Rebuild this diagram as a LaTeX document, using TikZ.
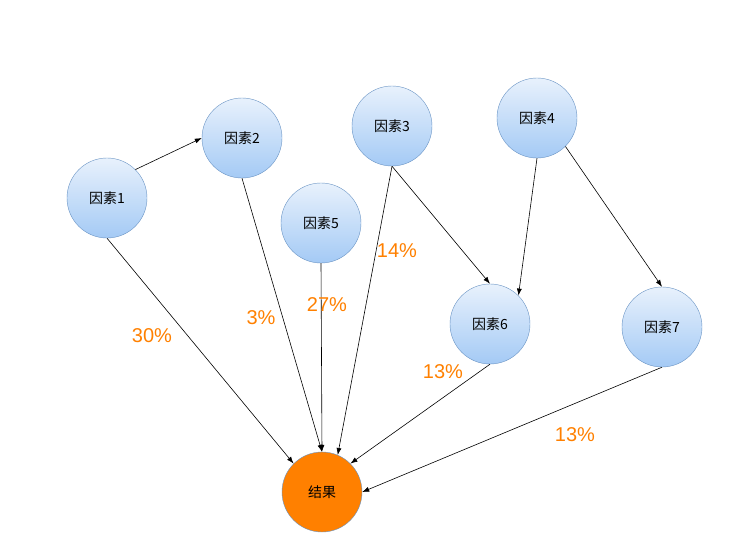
\documentclass[tikz,border=0pt]{standalone}
\usepackage{fontspec}
\setmainfont{Liberation Sans}
\newfontfamily\cjk{Noto Sans CJK SC}
\usetikzlibrary{arrows.meta}

\definecolor{factorTop}{RGB}{232,241,252}
\definecolor{factorBot}{RGB}{164,202,245}
\definecolor{factorRim}{RGB}{106,148,196}
\definecolor{resOrange}{RGB}{255,128,0}

\begin{document}
\begin{tikzpicture}[
    x=1pt, y=-1pt,
    factor/.style={draw=factorRim, circle, minimum size=80pt, inner sep=0pt, top color=factorTop, bottom color=factorBot, font=\cjk\fontsize{14}{16}\selectfont},
    result/.style={draw=factorRim, circle, minimum size=80pt, inner sep=0pt, fill=resOrange, font=\cjk\fontsize{14}{16}\selectfont},
    arr/.style={-{Latex[length=7pt,width=5pt]}, line width=0.6pt},
    pct/.style={text=resOrange, font=\fontsize{20}{22}\selectfont}
]
\useasboundingbox (0,0) rectangle (738,554);

\node[factor] (f1) at (107,198) {因素1};
\node[factor] (f2) at (242,138) {因素2};
\node[factor] (f3) at (392,126) {因素3};
\node[factor] (f4) at (537,118) {因素4};
\node[factor] (f5) at (321,223) {因素5};
\node[factor] (f6) at (490,324) {因素6};
\node[factor] (f7) at (662,327) {因素7};
\node[result] (res) at (322,492) {结果};

\draw[arr] (f1.45) -- (f2.west);
\draw[arr] (f1.south) -- (res.135);
\draw[arr] (f2.south) -- (res.north);
\draw[arr] (f5.south) -- (res.north);
\draw[arr] (f3.south) -- (res.67);
\draw[arr] (f3.south) -- (f6.north);
\draw[arr] (f4.south) -- (f6.45);
\draw[arr] (f4.-45) -- (f7.north);
\draw[arr] (f6.south) -- (res.45);
\draw[arr] (f7.south) -- (res.east);

\node[pct] (p1) at (152,336) {30\%};
\node[pct] (p2) at (261,318) {3\%};
\node[pct] (p5) at (327,305) {27\%};
\node[pct] (p3) at (397,251) {14\%};
\node[pct] (p6) at (443,372) {13\%};
\node[pct] (p7) at (575,435) {13\%};
\end{tikzpicture}
\end{document}
